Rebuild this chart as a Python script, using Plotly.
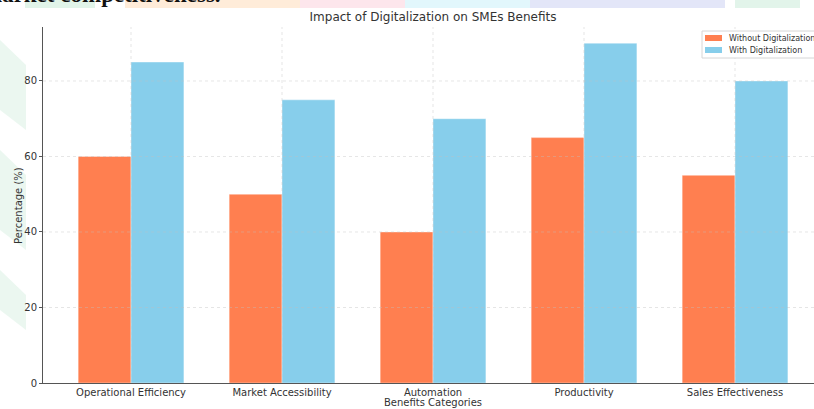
import plotly.graph_objects as go

categories = ["Operational Efficiency", "Market Accessibility", "Automation",
              "Productivity", "Sales Effectiveness"]
without_digitalization = [60, 50, 40, 65, 55]
with_digitalization = [85, 75, 70, 90, 80]
y_ticks = [0, 20, 40, 60, 80]

series_names = ["Without Digitalization", "With Digitalization"]
series_colors = ["#FF7F50", "#87CEEB"]

W, H = 814, 409
ML, MR, MT, MB = 43, 0, 27, 26
PW, PH = W - ML - MR, H - MT - MB


def px_x(px):
    return (px - ML) / PW


def px_y(py):
    return (H - MB - py) / PH


FONT = "DejaVu Sans"
TXT = "#333333"

fig = go.Figure()
for name, vals, col in zip(series_names, [without_digitalization, with_digitalization],
                           series_colors):
    fig.add_trace(go.Bar(
        x=categories, y=vals, name=name, showlegend=False,
        marker=dict(color=col, line=dict(color="rgba(255,255,255,0.6)", width=0.6)),
    ))

shapes = []
# faint page artwork behind the figure
band = [
    (25, 95, "rgba(205,236,218,0.6)"),
    (125, 300, "rgba(255,218,180,0.5)"),
    (300, 405, "rgba(252,210,220,0.55)"),
    (405, 530, "rgba(210,242,250,0.65)"),
    (530, 725, "rgba(212,216,244,0.65)"),
    (735, 800, "rgba(210,238,222,0.65)"),
]
for a, b, c in band:
    shapes.append(dict(type="rect", xref="paper", yref="paper",
                       x0=px_x(a), x1=px_x(b), y0=px_y(8), y1=px_y(0),
                       fillcolor=c, line=dict(width=0), layer="below"))
for (y0, y1) in [(40, 130), (150, 250), (270, 330)]:
    path = (f"M {px_x(0)},{px_y(y0)} L {px_x(26)},{px_y(y0 + 25)} "
            f"L {px_x(26)},{px_y(y1)} L {px_x(0)},{px_y(y1 - 20)} Z")
    shapes.append(dict(type="path", xref="paper", yref="paper", path=path,
                       fillcolor="rgba(205,236,218,0.4)", line=dict(width=0),
                       layer="below"))

# dashed grid drawn over the bars
grid = dict(color="rgba(190,190,190,0.5)", width=0.8, dash="dot")
for t in y_ticks[1:]:
    shapes.append(dict(type="line", xref="paper", yref="y", x0=0, x1=1, y0=t, y1=t,
                       line=grid, layer="above"))
for c in categories:
    shapes.append(dict(type="line", xref="x", yref="paper", x0=c, x1=c, y0=0, y1=1,
                       line=grid, layer="above"))

# legend box with wide swatches
lx0, ly0, ly1 = 702, 31, 58
shapes.append(dict(type="rect", xref="paper", yref="paper",
                   x0=px_x(lx0), x1=px_x(W + 10), y0=px_y(ly1), y1=px_y(ly0),
                   fillcolor="white", line=dict(color="#d6d6d6", width=1), layer="above"))
annotations = []
for i, (name, col) in enumerate(zip(series_names, series_colors)):
    cy = 38 + 12 * i
    shapes.append(dict(type="rect", xref="paper", yref="paper",
                       x0=px_x(705), x1=px_x(722), y0=px_y(cy + 3), y1=px_y(cy - 3),
                       fillcolor=col, line=dict(width=0), layer="above"))
    annotations.append(dict(text=name, xref="paper", yref="paper",
                            x=px_x(727), y=px_y(cy), xanchor="left", yanchor="middle",
                            showarrow=False, font=dict(family=FONT, size=8, color=TXT)))

annotations += [
    dict(text="Benefits Categories", xref="paper", yref="paper",
         x=px_x(433), y=px_y(402.5), xanchor="center", yanchor="middle",
         showarrow=False, font=dict(family=FONT, size=10, color=TXT)),
    dict(text="Percentage (%)", xref="paper", yref="paper", textangle=-90,
         x=px_x(18), y=px_y(205), xanchor="center", yanchor="middle",
         showarrow=False, font=dict(family=FONT, size=10, color=TXT)),
    dict(text="<b>market competitiveness.</b>", xref="paper", yref="paper",
         x=px_x(-19), y=px_y(8.5), xanchor="left", yanchor="bottom",
         showarrow=False,
         font=dict(family="Liberation Serif", size=23, color="#111111")),
]

fig.update_layout(
    width=W, height=H,
    margin=dict(l=ML, r=MR, t=MT, b=MB, pad=0, autoexpand=False),
    paper_bgcolor="white", plot_bgcolor="rgba(0,0,0,0)",
    barmode="group", bargap=0.3, bargroupgap=0,
    showlegend=False,
    font=dict(family=FONT, size=10, color=TXT),
    title=dict(text="Impact of Digitalization on SMEs Benefits",
               xref="paper", x=px_x(433), xanchor="center",
               y=1 - 17 / H, yanchor="middle",
               font=dict(family=FONT, size=12, color=TXT)),
    xaxis=dict(range=[-0.583, 4.523], showgrid=False, showline=True,
               linecolor="#555555", linewidth=1, ticks="",
               ticklabelstandoff=0, tickfont=dict(size=10, color=TXT)),
    yaxis=dict(range=[0, 94.3], tickvals=y_ticks, showgrid=False, showline=True,
               linecolor="#555555", linewidth=1, ticks="outside", ticklen=3,
               tickcolor="#555555", zeroline=False,
               tickfont=dict(size=10, color=TXT)),
    shapes=shapes,
    annotations=annotations,
)

fig.write_html("out.html")
